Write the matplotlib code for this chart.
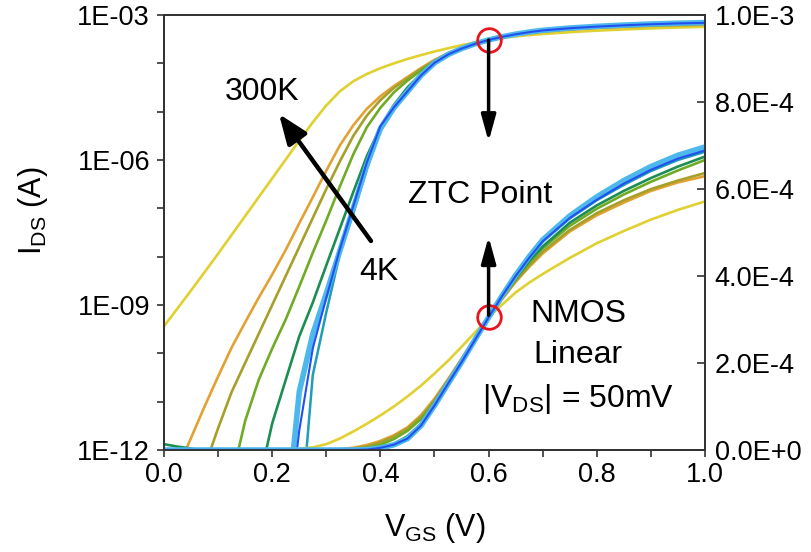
import numpy as np
import matplotlib
matplotlib.use('Agg')
import matplotlib.pyplot as plt
from matplotlib.ticker import FixedLocator, FuncFormatter, MultipleLocator, NullLocator

plt.rcParams['font.family'] = ['Liberation Sans', 'DejaVu Sans']
plt.rcParams['mathtext.default'] = 'regular'

#==============================================================================
# data: log10(I_DS [A]) vs V_GS, one list per temperature
#==============================================================================
vgs = [0.0, 0.025, 0.05, 0.075, 0.1, 0.125, 0.15, 0.175, 0.2, 0.225,
       0.25, 0.275, 0.3, 0.325, 0.35, 0.375, 0.4, 0.425, 0.45, 0.475,
       0.5, 0.525, 0.55, 0.575, 0.6, 0.625, 0.65, 0.675, 0.7,
       0.75, 0.8, 0.85, 0.9, 0.95, 1.0]

log_300k = [-9.44, -9.07, -8.7, -8.32, -7.94, -7.55, -7.16, -6.77, -6.38, -5.99,
            -5.6, -5.22, -4.87, -4.58, -4.37, -4.22, -4.1, -4.0, -3.91, -3.83,
            -3.755, -3.688, -3.625, -3.568, -3.516, -3.476, -3.441, -3.415, -3.393,
            -3.355, -3.323, -3.298, -3.276, -3.258, -3.243]
log_t2 = [-13.0, -12.4, -11.75, -11.1, -10.48, -9.88, -9.36, -8.85, -8.37, -7.86,
          -7.31, -6.77, -6.22, -5.7, -5.28, -4.94, -4.68, -4.469, -4.284, -4.097,
          -3.928, -3.788, -3.678, -3.588, -3.516, -3.46, -3.413, -3.376, -3.345,
          -3.299, -3.268, -3.245, -3.225, -3.211, -3.201]
log_t3 = [-13.5, -13.5, -13.5, -12.35, -11.55, -10.8, -10.2, -9.6, -9.0, -8.4,
          -7.8, -7.2, -6.6, -6.03, -5.5, -5.08, -4.76, -4.509, -4.31, -4.119,
          -3.943, -3.796, -3.682, -3.59, -3.516, -3.458, -3.411, -3.373, -3.341,
          -3.296, -3.264, -3.241, -3.222, -3.208, -3.196]
log_t4 = [-13.5, -13.5, -13.5, -13.5, -13.5, -12.6, -11.4, -10.55, -9.9, -9.3,
          -8.62, -7.92, -7.25, -6.55, -5.88, -5.32, -4.92, -4.6, -4.357, -4.149,
          -3.959, -3.804, -3.684, -3.59, -3.516, -3.456, -3.407, -3.367, -3.334,
          -3.288, -3.256, -3.231, -3.21, -3.192, -3.176]
log_t5 = [-11.88, -11.93, -11.97, -12.03, -12.3, -12.6, -12.9, -12.7, -11.45, -10.55,
          -9.65, -8.95, -8.18, -7.42, -6.66, -5.92, -5.32, -4.86, -4.5, -4.22,
          -3.971, -3.81, -3.688, -3.592, -3.516, -3.453, -3.403, -3.362, -3.33,
          -3.282, -3.25, -3.225, -3.204, -3.186, -3.171]
log_t6 = [-14.0, -14.0, -14.0, -14.0, -14.0, -14.0, -14.0, -14.0, -14.0, -14.0,
          -13.8, -10.45, -9.15, -7.95, -7.1, -6.18, -5.4, -4.939, -4.602, -4.268,
          -4.004, -3.827, -3.699, -3.597, -3.516, -3.451, -3.398, -3.355, -3.32,
          -3.274, -3.241, -3.215, -3.193, -3.176, -3.164]
log_t7 = [-14.0, -14.0, -14.0, -14.0, -14.0, -14.0, -14.0, -14.0, -14.0, -14.0,
          -11.6, -9.9, -8.85, -7.85, -6.95, -6.05, -5.3, -4.91, -4.58, -4.25,
          -3.99, -3.817, -3.695, -3.596, -3.516, -3.451, -3.398, -3.355, -3.319,
          -3.273, -3.24, -3.213, -3.191, -3.174, -3.162]
log_4k = [-14.0, -14.0, -14.0, -14.0, -14.0, -14.0, -14.0, -14.0, -14.0, -13.6,
          -10.8, -9.6, -8.76, -7.88, -7.0, -6.1, -5.35, -4.92, -4.585, -4.252,
          -3.991, -3.818, -3.695, -3.595, -3.516, -3.45, -3.396, -3.352, -3.316,
          -3.269, -3.235, -3.208, -3.186, -3.169, -3.157]

curves = [log_300k, log_t2, log_t3, log_t4, log_t5, log_t6, log_4k, log_t7]
colors = ['#E0D030', '#E2A233', '#A6A02A', '#70AB26', '#1C8E52', '#1F9DB8', '#4DB8EC', '#2250F0']
widths = [1.9, 1.9, 1.9, 1.9, 1.9, 1.8, 4.0, 1.5]

ztc_v = 0.6
ztc_i = 3.05e-4

#==============================================================================
# figure
#==============================================================================
fig = plt.figure(figsize=(8.11, 5.52), dpi=100)
ax = fig.add_axes([0.2022, 0.1848, 0.6671, 0.788])
ax2 = ax.twinx()

for lg, c, lw in zip(curves, colors, widths):
    cur = 10.0 ** np.array(lg)
    ax.plot(vgs, cur, color=c, lw=lw, solid_capstyle='round', solid_joinstyle='round')
    ax2.plot(vgs, cur, color=c, lw=lw, solid_capstyle='round', solid_joinstyle='round')

ax.set_yscale('log')
ax.set_xlim(0, 1)
ax.set_ylim(1e-12, 1e-3)
ax2.set_ylim(0, 1e-3)

def dec_fmt(v, pos):
    e = int(round(np.log10(v)))
    if e % 3 == 0:
        return '1E-%02d' % (-e)
    return ''

def sci_fmt(v, pos):
    if v == 0:
        return '0.0E+0'
    e = int(np.floor(np.log10(abs(v)) + 1e-9))
    return '%.1fE%d' % (v / 10.0 ** e, e)

ax.yaxis.set_major_locator(FixedLocator(10.0 ** np.arange(-12, -2)))
ax.yaxis.set_minor_locator(NullLocator())
ax.yaxis.set_major_formatter(FuncFormatter(dec_fmt))
ax.xaxis.set_major_locator(MultipleLocator(0.2))
ax.xaxis.set_minor_locator(MultipleLocator(0.1))
ax.xaxis.set_major_formatter(FuncFormatter(lambda v, p: '%.1f' % v))
ax2.yaxis.set_major_locator(MultipleLocator(2e-4))
ax2.yaxis.set_major_formatter(FuncFormatter(sci_fmt))

ax.tick_params(axis='both', which='both', direction='out', length=5, width=1.2,
               labelsize=19.5, color='#333333')
ax.tick_params(axis='y', pad=5)
ax.tick_params(axis='x', pad=4)
ax2.tick_params(axis='y', direction='in', length=6, width=1.2, labelsize=19.5,
                pad=7, color='#333333')
for a in (ax, ax2):
    for s in a.spines.values():
        s.set_linewidth(1.3)
        s.set_color('#333333')

ax.set_xlabel('V$_{GS}$ (V)', fontsize=22)
ax.set_ylabel('I$_{DS}$ (A)', fontsize=22)
ax.xaxis.set_label_coords(0.5, -0.14)
ax.yaxis.set_label_coords(-0.21, 0.55)

# ZTC circles
ax.plot([ztc_v], [ztc_i], 'o', ms=17, mfc='none', mec='#E8141E', mew=2, zorder=6)
ax2.plot([ztc_v], [ztc_i], 'o', ms=17, mfc='none', mec='#E8141E', mew=2, zorder=6)

# arrows
thin = dict(arrowstyle='-|>,head_length=0.8,head_width=0.22', color='black',
            lw=2.5, mutation_scale=20, shrinkA=0, shrinkB=0)
big = dict(arrowstyle='-|>,head_length=0.9,head_width=0.35', color='black',
           lw=3.2, mutation_scale=20, shrinkA=0, shrinkB=0)
ax2.annotate('', xy=(0.6, 0.709), xytext=(0.6, 0.9425), xycoords='axes fraction',
             textcoords='axes fraction', arrowprops=thin, zorder=7)
ax2.annotate('', xy=(0.6, 0.4904), xytext=(0.6, 0.31), xycoords='axes fraction',
             textcoords='axes fraction', arrowprops=thin, zorder=7)
ax2.annotate('', xy=(0.2126, 0.7724), xytext=(0.3826, 0.4805), xycoords='axes fraction',
             textcoords='axes fraction', arrowprops=big, zorder=7)

# labels
fs = 23
ax2.text(0.181, 0.8046, '300K', transform=ax.transAxes, fontsize=fs, ha='center', va='baseline')
ax2.text(0.397, 0.391, '4K', transform=ax.transAxes, fontsize=fs, ha='center', va='baseline')
ax2.text(0.585, 0.568, 'ZTC Point', transform=ax.transAxes, fontsize=fs, ha='center', va='baseline')
ax2.text(0.7653, 0.294, 'NMOS', transform=ax.transAxes, fontsize=fs, ha='center', va='baseline')
ax2.text(0.7653, 0.200, 'Linear', transform=ax.transAxes, fontsize=fs, ha='center', va='baseline')
ax2.text(0.7653, 0.0989, '|V$_{DS}$| = 50mV', transform=ax.transAxes, fontsize=fs,
         ha='center', va='baseline')

plt.savefig('out.png', dpi=100)
